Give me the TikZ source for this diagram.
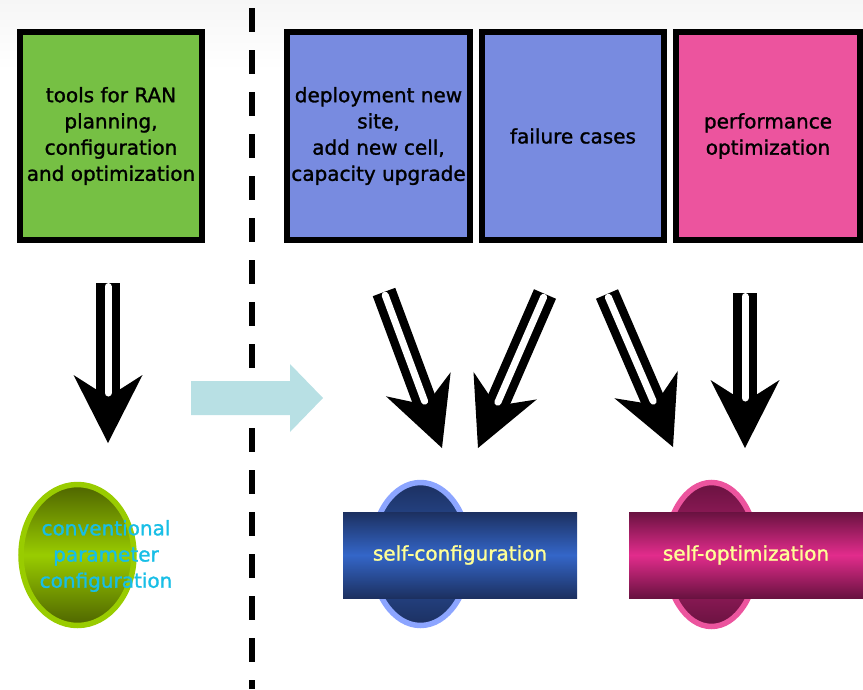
\documentclass[tikz,border=0pt]{standalone}
\usepackage{fontspec}
\setmainfont{DejaVu Sans}[FakeBold=1.3]
\usepackage{tikz}
\usetikzlibrary{shapes.geometric,calc}
\usepackage{xcolor}

\definecolor{boxgreen}{RGB}{118,192,68}
\definecolor{boxblue}{RGB}{120,139,224}
\definecolor{boxpink}{RGB}{236,84,158}
\definecolor{olivedark}{RGB}{78,100,0}
\definecolor{olivelight}{RGB}{153,204,0}
\definecolor{convcyan}{RGB}{24,190,230}
\definecolor{navydark}{RGB}{28,48,96}
\definecolor{navymid}{RGB}{52,102,200}
\definecolor{navyring}{RGB}{140,165,255}
\definecolor{plumdark}{RGB}{105,18,64}
\definecolor{plummid}{RGB}{226,44,140}
\definecolor{paleyellow}{RGB}{255,255,150}
\definecolor{flowcyan}{RGB}{184,224,228}

\begin{document}
\begin{tikzpicture}[x=1pt, y=-1pt,
    txt/.style={font=\fontsize{20}{26.2}\selectfont, align=center},
    box/.style={txt, draw=black, line width=6pt, minimum height=208pt, inner sep=0pt},
    ring/.style={ellipse, line width=5.5pt, inner sep=0pt},
    band/.style={txt, minimum width=234pt, minimum height=86pt, inner sep=0pt, shading=axis},
    shaft/.style={line width=24pt, black},
    gap/.style={line width=7pt, white, line cap=round}]
    \useasboundingbox (0,0) rectangle (863,689);
    \fill[top color=gray!7, bottom color=white, draw=none] (0,0) rectangle (863,70);

    % separator and transition arrow
    \draw[line width=6pt, dash pattern=on 24pt off 18pt] (252,8) -- (252,689);
    \fill[flowcyan] (191,381) -- (290,381) -- (290,364) -- (323,398)
        -- (290,432) -- (290,415) -- (191,415) -- cycle;

    % input boxes
    \node[box, fill=boxgreen, minimum width=182pt] (tools) at (111,136)
        {tools for RAN\\planning,\\configuration\\and optimization};
    \node[box, fill=boxblue, minimum width=183pt] (deploy) at (378.5,136)
        {deployment new\\site,\\add new cell,\\capacity upgrade};
    \node[box, fill=boxblue, minimum width=182pt] (failure) at (573,136)
        {failure cases};
    \node[box, fill=boxpink, minimum width=184pt] (perf) at (768,136)
        {performance\\optimization};

    % results
    \node[ring, draw=olivelight, top color=olivedark, bottom color=olivedark,
        middle color=olivelight, minimum width=113pt, minimum height=141pt]
        (conv) at (77.5,555) {};
    \node[txt, text=convcyan] (convtext) at (106,556)
        {conventional\\parameter\\configuration};

    \node[ring, draw=navyring, top color=navydark, bottom color=navydark,
        middle color=navymid!70!navydark, minimum width=98pt, minimum height=143pt]
        (confring) at (420.5,554) {};
    \node[band, top color=navydark, bottom color=navydark, middle color=navymid,
        text=paleyellow] (selfconf) at (460,555) {self-configuration};

    \node[ring, draw=boxpink, top color=plumdark, bottom color=plumdark,
        middle color=plummid!60!plumdark, minimum width=92pt, minimum height=144pt]
        (optring) at (711.5,554.5) {};
    \node[band, top color=plumdark, bottom color=plumdark, middle color=plummid,
        text=paleyellow] (selfopt) at (746,555) {self-optimization};

    % double arrows
    \coordinate (a1s) at (108,283); \coordinate (a1e) at (108,443);
    \coordinate (a2s) at (384,292); \coordinate (a2e) at (442,448);
    \coordinate (a3s) at (545,294); \coordinate (a3e) at (478,448);
    \coordinate (a4s) at (607,294); \coordinate (a4e) at (673,447);
    \coordinate (a5s) at (745,293); \coordinate (a5e) at (745,448);
    \foreach \s/\e in {a1s/a1e, a2s/a2e, a3s/a3e, a4s/a4e, a5s/a5e} {
        \coordinate (back) at ($(\e)!68pt!(\s)$);
        \draw[shaft] (\s) -- ($(\e)!46pt!(\s)$);
        \fill (\e) -- ($(back)!34.5pt!90:(\e)$) -- ($(\e)!46pt!(\s)$)
            -- ($(back)!34.5pt!-90:(\e)$) -- cycle;
        \draw[gap] ($(\s)!3.5pt!(\e)$) -- ($(\e)!50pt!(\s)$);
    }
\end{tikzpicture}
\end{document}
